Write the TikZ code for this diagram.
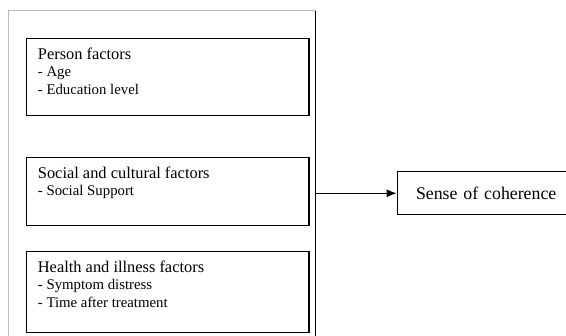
\documentclass[tikz,border=0pt]{standalone}
\usepackage{fontspec}
\setmainfont{Liberation Serif}
\usetikzlibrary{arrows.meta}
\definecolor{framegray}{RGB}{185,185,185}
\tikzset{
	factorbox/.style={draw, line width=1.3pt, minimum width=282.3pt, inner sep=0pt, anchor=north west},
	factortext/.style={anchor=north west, inner sep=0pt, align=left, font=\fontsize{14.8}{17.5}\selectfont},
	resultbox/.style={draw, line width=1.3pt, minimum width=169pt, minimum height=43pt, text width=149pt, inner xsep=10pt, align=right, anchor=west, font=\fontsize{17.8}{20}\selectfont},
}
\newcommand{\factorhead}[1]{{\fontsize{16.4}{17.5}\selectfont #1}}
\begin{document}
\begin{tikzpicture}[x=1pt,y=1pt]
	\useasboundingbox (0,0) rectangle (566,336);
	\draw[framegray, line width=1pt] (8.3,0) -- (8.3,325.3) -- (315.7,325.3);
	\draw[line width=1.3pt] (315.7,325.3) -- (315.7,0);

	\node[factorbox, minimum height=77.3pt] (person) at (26,298.3) {};
	\node[factortext] (persontext) at ([xshift=11.7pt, yshift=-10pt]person.north west) {\factorhead{Person factors}\\- Age\\- Education level};

	\node[factorbox, minimum height=68.3pt] (social) at (26,179.3) {};
	\node[factortext] (socialtext) at ([xshift=11.7pt, yshift=-10pt]social.north west) {\factorhead{Social and cultural factors}\\- Social Support};

	\node[factorbox, minimum height=81pt] (health) at (26,85.3) {};
	\node[factortext] (healthtext) at ([xshift=11.7pt, yshift=-10pt]health.north west) {\factorhead{Health and illness factors}\\- Symptom distress\\- Time after treatment};

	\coordinate (frame) at (315.7,142.7);
	\node[resultbox] (sense) at (396.7,142.7) {Sense of coherence};
	\draw[-{Latex[length=10pt, width=8pt]}, line width=1.2pt] (frame) -- (sense);
\end{tikzpicture}
\end{document}
